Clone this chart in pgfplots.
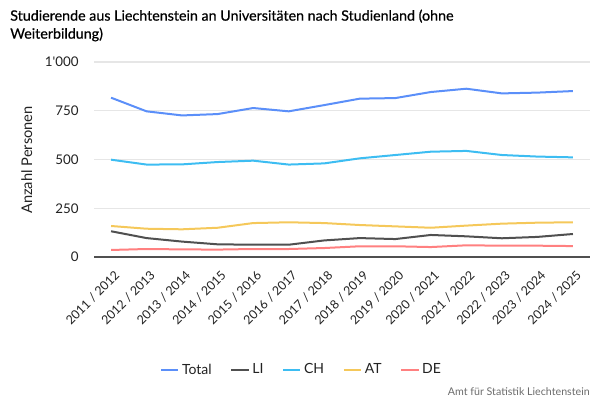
\documentclass[border=0pt]{standalone}
\usepackage{fontspec}
\setmainfont{Lato}
\newfontfamily\titlefont[FakeBold=0.6]{Lato}
\usepackage{pgfplots}
\pgfplotsset{compat=1.18}
\definecolor{cTotal}{HTML}{5B8FF9}
\definecolor{cLI}{HTML}{505050}
\definecolor{cCH}{HTML}{3DBDF2}
\definecolor{cAT}{HTML}{F5C85A}
\definecolor{cDE}{HTML}{FF8080}
\definecolor{cGrid}{HTML}{E6E6E6}
\definecolor{cAxis}{HTML}{505050}
\definecolor{cText}{HTML}{222222}
\begin{document}
\begin{tikzpicture}
\useasboundingbox (0,0) rectangle (450pt,300pt);
\node[anchor=north west, align=left, inner sep=0pt, font=\titlefont\fontsize{10.7}{13.5}\selectfont] at (7.5pt,293pt)
  {Studierende aus Liechtenstein an Universitäten nach Studienland (ohne\\Weiterbildung)};
\node[rotate=90, text=cText, font=\fontsize{11}{13}\selectfont] at (20pt,180pt) {Anzahl Personen};
\node[anchor=south east, inner sep=0pt, text=gray!85!black, font=\fontsize{8}{10}\selectfont] at (442.5pt,3pt) {Amt für Statistik Liechtenstein};
\begin{axis}[
  at={(70.5pt,107.25pt)}, anchor=south west,
  scale only axis, width=372pt, height=146.25pt,
  xmin=-0.48, xmax=13.48, ymin=0, ymax=1000,
  axis x line=bottom, axis y line=left,
  x axis line style={-, color=cAxis, line width=0.8pt},
  y axis line style={draw=none},
  major tick length=0pt,
  ytick={0,250,500,750,1000},
  yticklabels={0,250,500,750,1\textquotesingle000},
  ymajorgrids, grid style={color=cGrid, line width=0.8pt},
  yticklabel style={font=\fontsize{10}{12}\selectfont, text=cText, xshift=-8pt},
  xtick={0,...,13},
  xticklabels={2011 / 2012,2012 / 2013,2013 / 2014,2014 / 2015,2015 / 2016,2016 / 2017,2017 / 2018,2018 / 2019,2019 / 2020,2020 / 2021,2021 / 2022,2022 / 2023,2023 / 2024,2024 / 2025},
  xticklabel style={font=\fontsize{9.3}{11}\selectfont, text=cText, yshift=-8pt, xshift=2pt, rotate=45, anchor=north east, inner sep=1pt},
  every axis plot/.append style={line width=1.5pt, no markers},
  legend columns=-1,
  legend style={draw=none, fill=none, at={(axis description cs:0.419,-0.579)}, anchor=center,
    font=\fontsize{10.5}{12}\selectfont, text=cText,
    /tikz/every even column/.append style={column sep=12pt}},
  legend image code/.code={\draw[#1] (0pt,0pt) -- (13pt,0pt);},
  clip=false,
]
\addplot[cTotal] coordinates {(0,817) (1,747) (2,726) (3,733) (4,764) (5,747) (6,779) (7,812) (8,815) (9,846) (10,863) (11,839) (12,843) (13,851)};
\addlegendentry{Total}
\addplot[cLI] coordinates {(0,132) (1,97) (2,79) (3,65) (4,63) (5,63) (6,85) (7,97) (8,92) (9,113) (10,106) (11,96) (12,103) (13,118)};
\addlegendentry{LI}
\addplot[cCH] coordinates {(0,499) (1,474) (2,475) (3,487) (4,494) (5,474) (6,480) (7,506) (8,523) (9,540) (10,544) (11,523) (12,515) (13,511)};
\addlegendentry{CH}
\addplot[cAT] coordinates {(0,159) (1,145) (2,142) (3,150) (4,174) (5,178) (6,174) (7,164) (8,157) (9,150) (10,161) (11,171) (12,176) (13,178)};
\addlegendentry{AT}
\addplot[cDE] coordinates {(0,36) (1,41) (2,39) (3,38) (4,41) (5,41) (6,46) (7,55) (8,55) (9,51) (10,60) (11,58) (12,58) (13,56)};
\addlegendentry{DE}
\end{axis}
\end{tikzpicture}
\end{document}
